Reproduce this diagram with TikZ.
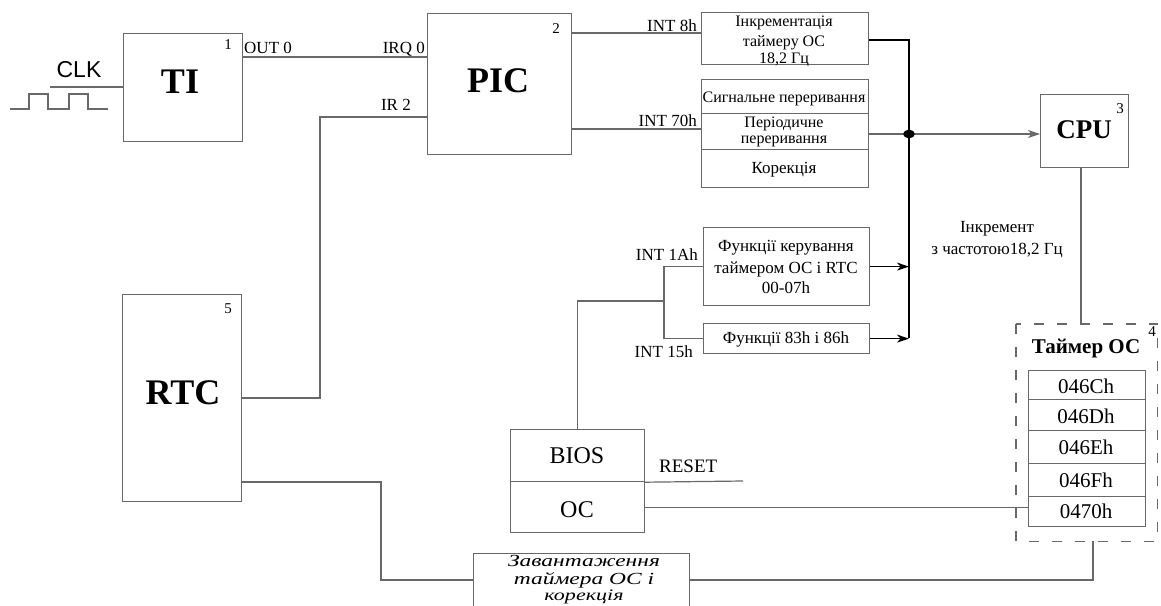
\documentclass[tikz,border=0pt]{standalone}
\usepackage{fontspec}
\usepackage{graphicx}
\setmainfont{Liberation Serif}
\newfontfamily\clkfont{Liberation Sans}
\usetikzlibrary{arrows.meta,shapes.geometric}
\definecolor{wiregray}{RGB}{105,105,105}

\newcommand{\fs}[1]{\fontsize{#1}{#1}\selectfont}
\newcommand{\widetext}[1]{\scalebox{1.38}[1]{#1}}

\tikzset{
  box/.style={draw=wiregray, line width=1.2pt, fill=white, inner sep=0pt, anchor=north west},
  wire/.style={draw=wiregray, line width=1.2pt},
  bus/.style={draw=black, line width=1.3pt},
  arr/.style={-{Stealth[length=12pt,width=8pt,inset=3.5pt]}},
  txt/.style={inner sep=0pt, anchor=base},
  lbl/.style={inner sep=0pt, font=\fs{17}},
  num/.style={inner sep=0pt, anchor=base east, font=\fs{15}},
  big/.style={txt, font=\fs{36}\bfseries},
  small/.style={txt, font=\fs{16}},
  reg/.style={txt, font=\fs{21}},
  tmrframe/.style={draw=wiregray, line width=1.3pt, dash pattern=on 10pt off 13pt}
}

\begin{document}
\begin{tikzpicture}[x=1pt,y=-1pt]
\useasboundingbox (0,0) rectangle (1161,605);
\clip (0,0) rectangle (1161,605);

% ---------------- blocks ----------------
\node[box, minimum width=119pt, minimum height=108pt] (ti)  at (123,33) {};
\node[box, minimum width=144pt, minimum height=141pt] (pic) at (427,13) {};
\node[box, minimum width=119pt, minimum height=207pt] (rtc) at (122,294) {};
\node[box, minimum width=88pt,  minimum height=73pt]  (cpu) at (1040,94) {};

\node[box, minimum width=167pt, minimum height=52pt] (inc) at (701,12) {};
\node[box, minimum width=167pt, minimum height=34pt] (s1)  at (701,79) {};
\node[box, minimum width=167pt, minimum height=36pt] (s2)  at (701,113) {};
\node[box, minimum width=167pt, minimum height=38pt] (s3)  at (701,149) {};

\node[box, minimum width=166pt, minimum height=78pt] (fk)  at (703,227) {};
\node[box, minimum width=166pt, minimum height=30pt] (f83) at (703,323) {};

\node[box, minimum width=134pt, minimum height=52pt] (bios) at (510,429) {};
\node[box, minimum width=134pt, minimum height=51pt] (osn)  at (510,481) {};

\node[box, minimum width=216pt, minimum height=56pt] (zav) at (473,553) {};

% OS timer frame with its register table
\node[inner sep=0pt, minimum width=141pt, minimum height=217pt, anchor=north west] (tmr) at (1016,324) {};
\draw[tmrframe] (tmr.north west) rectangle (tmr.south east);
\node[box, minimum width=117pt, minimum height=29pt] (r1) at (1028,370) {};
\node[box, minimum width=117pt, minimum height=31pt] (r2) at (1028,399) {};
\node[box, minimum width=117pt, minimum height=33pt] (r3) at (1028,430) {};
\node[box, minimum width=117pt, minimum height=33pt] (r4) at (1028,463) {};
\node[box, minimum width=117pt, minimum height=30pt] (r5) at (1028,496) {};

% ---------------- block texts ----------------
\node[big] (tiT)  at (180,93)  {TI};
\node[big] (picT) at (498,92)  {PIC};
\node[big] (rtcT) at (183,404) {RTC};
\node[txt, font=\fs{27}\bfseries] (cpuT) at (1084,138) {CPU};
\node[txt, font=\fs{21}\bfseries] (tmrT) at (1086,353) {Таймер ОС};

\node[num] (n1) at (232,49)   {1};
\node[num] (n2) at (560,33)   {2};
\node[num] (n3) at (1124,113) {3};
\node[num] (n4) at (1156,336) {4};
\node[num] (n5) at (232,313)  {5};

\node[small] (incA) at (784,27) {Інкрементація};
\node[small] (incB) at (784,46) {таймеру ОС};
\node[small] (incC) at (784,63) {18,2 Гц};

\node[small] (s1T)  at (784,102) {Сигнальне переривання};
\node[small] (s2A)  at (784,127) {Періодичне};
\node[small] (s2B)  at (784,143) {переривання};
\node[txt, font=\fs{17}] (s3T) at (784,173) {Корекція};

\node[txt, font=\fs{17}] (fkA) at (786,251) {Функції керування};
\node[txt, font=\fs{17}] (fkB) at (786,273) {таймером ОС і RTC};
\node[txt, font=\fs{17}] (fkC) at (786,293) {00-07h};
\node[txt, font=\fs{17}] (f83T) at (786,343) {Функції 83h і 86h};

\node[txt, font=\fs{24}] (biosT) at (577,463) {BIOS};
\node[txt, font=\fs{24}] (osnT)  at (577,517) {ОС};

\node[txt, font=\fs{17}\itshape] (zavA) at (584,566) {\widetext{Завантаження}};
\node[txt, font=\fs{17}\itshape] (zavB) at (584,584) {\widetext{таймера ОС і}};
\node[txt, font=\fs{16}\itshape] (zavC) at (584,600) {\widetext{корекція}};

\node[reg] (rT1) at (1086,393) {046Ch};
\node[reg] (rT2) at (1086,423) {046Dh};
\node[reg] (rT3) at (1086,454) {046Eh};
\node[reg] (rT4) at (1086,487) {046Fh};
\node[reg] (rT5) at (1086,518) {0470h};

\node[txt, font=\fs{17}] (incrA) at (997,232) {Інкремент};
\node[txt, font=\fs{17}] (incrB) at (997,254) {з частотою18,2 Гц};

% ---------------- clock input ----------------
\node[txt, font=\clkfont\fs{23}] (clkT) at (79,77) {CLK};
\coordinate (clkin) at (50,87);
\draw[wire] (clkin) -- (clkin -| ti.west);
\draw[wire] (10,109) -- (29,109) -- (29,94) -- (48,94) -- (48,109) -- (69,109)
            -- (69,94) -- (88,94) -- (88,109) -- (108,109);

% ---------------- TI / RTC -> PIC ----------------
\coordinate (irq0) at (427,57);
\draw[wire] (ti.east |- irq0) -- (pic.west |- irq0);
\node[lbl, anchor=base west] (outL) at (244,53) {OUT 0};
\node[lbl, anchor=base east] (irqL) at (425,53) {IRQ 0};

\coordinate (ir2) at (320,117);
\coordinate (rtcup) at (241,398);
\draw[wire] (rtc.east |- rtcup) -| (ir2) -- (pic.west |- ir2);
\node[lbl, anchor=base east] (ir2L) at (411,110) {IR 2};

% ---------------- PIC -> handlers ----------------
\coordinate (int8) at (701,33);
\draw[wire] (pic.east |- int8) -- (inc.west |- int8);
\node[lbl, anchor=base east] (int8L) at (697,31) {INT 8h};

\coordinate (int70) at (701,129);
\draw[wire] (pic.east |- int70) -- (s2.west |- int70);
\node[lbl, anchor=base east] (int70L) at (697,126) {INT 70h};

% ---------------- bus to CPU ----------------
\coordinate (busx) at (909,40);
\coordinate (inco) at (868,40);
\coordinate (busend) at (909,338);
\node[ellipse, fill=black, inner sep=0pt, minimum width=12pt, minimum height=8pt] (dot) at (909,134) {};
\draw[bus] (inc.east |- inco) -- (busx) -- (busend);
\draw[wire] (s2.east |- dot) -- (dot);
\draw[wire, arr] (dot) -- (cpu.west |- dot);
\draw[bus, arr] (fk.east) -- (fk.east -| busx);
\draw[bus, arr] (f83.east) -- (f83.east -| busx);

% ---------------- BIOS branch ----------------
\coordinate (jx) at (664,301);
\draw[wire] (fk.west) -- (fk.west -| jx) -- (f83.west -| jx) -- (f83.west);
\draw[wire] (jx) -| (bios.north);
\node[lbl, anchor=base east] (int1aL) at (698,260) {INT 1Ah};
\node[lbl, anchor=base east] (int15L) at (693,357) {INT 15h};

\coordinate (resetend) at (743,481);
\draw[wire] (bios.south east) -- (resetend);
\node[txt, anchor=base west, font=\fs{19}] (resetL) at (659,472) {RESET};

\draw[wire] (osn.east) -- (osn.east -| r5.west);

% ---------------- CPU / OS timer ----------------
\coordinate (cpudown) at (1081,167);
\draw[wire] (cpudown) -- (cpudown |- tmr.north);

\coordinate (rtclow) at (241,482);
\coordinate (zavx) at (381,580);
\draw[wire] (rtc.east |- rtclow) -| (zavx) -- (zav.west |- zavx);
\coordinate (tmrup) at (1093,580);
\draw[wire] (zav.east |- tmrup) -- (tmrup) -- (tmrup |- tmr.south);

\end{tikzpicture}
\end{document}
